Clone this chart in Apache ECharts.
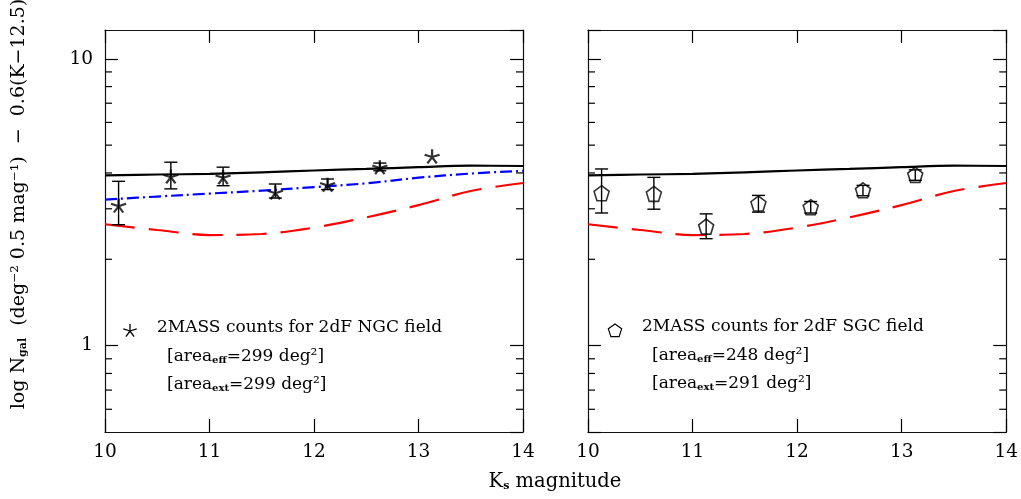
<!DOCTYPE html>
<html>
<head>
<meta charset="utf-8">
<script src="https://cdn.jsdelivr.net/npm/echarts@6/dist/echarts.min.js"></script>
<style>
html,body{margin:0;padding:0;background:#fff;}
#chart{width:1021px;height:499px;}
</style>
</head>
<body>
<div id="chart"></div>
<script>
// ---- axis limits / ticks ----
const K_MIN = 10, K_MAX = 14;
const Y_MIN = 0.5, Y_MAX = 12.6;
const xTickLabels = ['10', '11', '12', '13', '14'];
const yMajorTicks = [1, 10];
const yMinorTicks = [0.6, 0.7, 0.8, 0.9, 2, 3, 4, 5, 6, 7, 8, 9];

// ---- model curves (same in both panels) ----
const modelK     = [10, 10.5, 11, 11.5, 12, 12.5, 13, 13.5, 14];
const totalModel = [3.92, 3.95, 3.97, 4.02, 4.08, 4.13, 4.19, 4.24, 4.23];
const blueModel  = [3.23, 3.31, 3.39, 3.47, 3.57, 3.68, 3.85, 3.98, 4.07];
const redModel   = [2.65, 2.53, 2.43, 2.45, 2.58, 2.80, 3.09, 3.46, 3.69];

// ---- 2MASS counts ----
const countK = [10.13, 10.63, 11.13, 11.63, 12.13, 12.63, 13.13];
const ngcVal = [3.08, 3.89, 3.87, 3.42, 3.64, 4.19, 4.57];
const ngcLo  = [2.64, 3.52, 3.61, 3.27, 3.50, 4.07, null];
const ngcHi  = [3.74, 4.36, 4.19, 3.66, 3.81, 4.33, null];
const sgcVal = [3.40, 3.38, 2.60, 3.13, 3.04, 3.48, 3.94];
const sgcLo  = [2.90, 2.99, 2.36, 2.92, 2.90, 3.33, 3.77];
const sgcHi  = [4.13, 3.86, 2.88, 3.34, 3.18, 3.62, 4.10];

// ---- texts ----
const legendNGC = ['2MASS counts for 2dF NGC field', '299', '299'];
const legendSGC = ['2MASS counts for 2dF SGC field', '248', '291'];

const FONT = 'DejaVu Serif';
const STAR = 'path://M10,10L10,0M10,10L0.5,6.9M10,10L19.5,6.9M10,10L4.1,18.1M10,10L15.9,18.1';
const PENT = 'path://M10,0L19.51,6.91L15.88,18.09L4.12,18.09L0.49,6.91Z';

const chart = echarts.init(document.getElementById('chart'), null, {renderer: 'canvas'});

function xAxisDef(grid, pos, labels) {
  return {
    gridIndex: grid, type: 'value', min: K_MIN, max: K_MAX, interval: 1, position: pos,
    axisLine: {show: true, onZero: false, lineStyle: {color: '#111', width: 1.2}},
    axisTick: {show: true, inside: true, length: 13, lineStyle: {color: '#000', width: 1.2}},
    axisLabel: {show: labels, color: '#000', fontFamily: FONT, fontSize: 18.5, margin: 11,
      formatter: v => xTickLabels[Math.round(v - K_MIN)] || ''},
    splitLine: {show: false}
  };
}
function yAxisDef(grid, pos, labels) {
  return {
    gridIndex: grid, type: 'log', logBase: 10, min: Y_MIN, max: Y_MAX, position: pos,
    axisLine: {show: true, onZero: false, lineStyle: {color: '#111', width: 1.2}},
    axisTick: {show: true, inside: true, length: 13, lineStyle: {color: '#000', width: 1.2}},
    axisLabel: {show: labels, color: '#000', fontFamily: FONT, fontSize: 18.5, margin: 12,
      showMinLabel: false, showMaxLabel: false,
      formatter: v => {
        for (const t of yMajorTicks) if (Math.abs(v - t) < 1e-6 * t) return String(t);
        return '';
      }},
    splitLine: {show: false}
  };
}

function minorTickSeries(xi, yi) {
  return {
    type: 'custom', xAxisIndex: xi, yAxisIndex: yi, silent: true, clip: false, z: 5,
    data: yMinorTicks.map(v => [K_MIN, v]),
    renderItem: (params, api) => {
      const l = api.coord([K_MIN, api.value(1)]);
      const r = api.coord([K_MAX, api.value(1)]);
      const st = {stroke: '#000', lineWidth: 1.2};
      return {type: 'group', children: [
        {type: 'line', shape: {x1: l[0], y1: l[1], x2: l[0] + 7, y2: l[1]}, style: st},
        {type: 'line', shape: {x1: r[0], y1: r[1], x2: r[0] - 7, y2: r[1]}, style: st}
      ]};
    }
  };
}
function errSeries(xi, yi, lo, hi) {
  return {
    type: 'custom', xAxisIndex: xi, yAxisIndex: yi, silent: true, z: 4,
    data: countK.map((k, i) => [k, lo[i], hi[i]]).filter(d => d[1] != null),
    encode: {x: 0, y: [1, 2]},
    renderItem: (params, api) => {
      const a = api.coord([api.value(0), api.value(1)]);
      const b = api.coord([api.value(0), api.value(2)]);
      const w = 6.5, st = {stroke: '#000', lineWidth: 1.4};
      return {type: 'group', children: [
        {type: 'line', shape: {x1: a[0], y1: a[1], x2: b[0], y2: b[1]}, style: st},
        {type: 'line', shape: {x1: a[0] - w, y1: a[1], x2: a[0] + w, y2: a[1]}, style: st},
        {type: 'line', shape: {x1: b[0] - w, y1: b[1], x2: b[0] + w, y2: b[1]}, style: st}
      ]};
    }
  };
}
function lineSeries(xi, yi, vals, color, type, z) {
  return {
    type: 'line', xAxisIndex: xi, yAxisIndex: yi, showSymbol: false, smooth: 0.35, silent: true, z: z,
    data: modelK.map((k, i) => [k, vals[i]]),
    lineStyle: {color: color, width: 2.2, type: type}
  };
}

function legendGraphics(ix, iy, shape, lines) {
  const tx = ix + 27, ty = iy - 3;
  const els = [];
  if (shape === 'star') {
    const arms = [[0, -7], [-6.7, -2.2], [6.7, -2.2], [-4.1, 5.7], [4.1, 5.7]];
    els.push({type: 'group', x: ix, y: iy, children: arms.map(a => ({
      type: 'line', shape: {x1: 0, y1: 0, x2: a[0], y2: a[1]}, style: {stroke: '#000', lineWidth: 1.3}
    }))});
  } else {
    const pts = [];
    for (let k = 0; k < 5; k++) {
      const ang = -Math.PI / 2 + k * 2 * Math.PI / 5;
      pts.push([ix + 7 * Math.cos(ang), iy + 1 + 7 * Math.sin(ang)]);
    }
    els.push({type: 'polygon', shape: {points: pts}, style: {fill: 'none', stroke: '#000', lineWidth: 1.2}});
  }
  const rich = {
    n: {fontFamily: FONT, fontSize: 17, fill: '#000'},
    s: {fontFamily: FONT, fontSize: 10, fontWeight: 'bold', fill: '#000', verticalAlign: 'bottom', padding: [7, 0, 0, 0]}
  };
  els.push({type: 'text', x: tx, y: ty, style: {text: lines[0], fontFamily: FONT, fontSize: 17, fill: '#000', verticalAlign: 'middle'}});
  els.push({type: 'text', x: tx + 10, y: ty + 28.5, style: {
    text: '{n|[area}{s|eff}{n|=' + lines[1] + ' deg²]}', rich: rich, verticalAlign: 'middle', fontSize: 17, fontFamily: FONT}});
  els.push({type: 'text', x: tx + 10, y: ty + 57, style: {
    text: '{n|[area}{s|ext}{n|=' + lines[2] + ' deg²]}', rich: rich, verticalAlign: 'middle', fontSize: 17, fontFamily: FONT}});
  return els;
}

const option = {
  animation: false,
  backgroundColor: '#fff',
  grid: [
    {left: 105, top: 30, width: 418, height: 402},
    {left: 588, top: 30, width: 419, height: 402}
  ],
  xAxis: [xAxisDef(0, 'bottom', true), xAxisDef(0, 'top', false), xAxisDef(1, 'bottom', true), xAxisDef(1, 'top', false)],
  yAxis: [yAxisDef(0, 'left', true), yAxisDef(0, 'right', false), yAxisDef(1, 'left', false), yAxisDef(1, 'right', false)],
  series: [
    minorTickSeries(0, 0),
    minorTickSeries(2, 2),
    lineSeries(0, 0, totalModel, '#000', 'solid', 3),
    lineSeries(0, 0, blueModel, '#0000ff', [12, 4, 2, 4], 3),
    lineSeries(0, 0, redModel, '#ff0000', [30, 14], 3),
    lineSeries(2, 2, totalModel, '#000', 'solid', 3),
    lineSeries(2, 2, redModel, '#ff0000', [30, 14], 3),
    errSeries(0, 0, ngcLo, ngcHi),
    errSeries(2, 2, sgcLo, sgcHi),
    {type: 'scatter', xAxisIndex: 0, yAxisIndex: 0, symbol: STAR, symbolSize: [15, 14], silent: true, z: 6,
      itemStyle: {color: 'transparent', borderColor: '#000', borderWidth: 2.2},
      data: countK.map((k, i) => [k, ngcVal[i]])},
    {type: 'scatter', xAxisIndex: 2, yAxisIndex: 2, symbol: PENT, symbolSize: [15, 15], silent: true, z: 6,
      itemStyle: {color: 'transparent', borderColor: '#000', borderWidth: 1.6},
      data: countK.map((k, i) => [k, sgcVal[i]])}
  ],
  graphic: [
    ...legendGraphics(130, 331, 'star', legendNGC),
    ...legendGraphics(615, 330, 'pent', legendSGC),
    {type: 'text', x: 555, y: 482, style: {
      text: '{n|K}{s|s}{n| magnitude}', align: 'center', verticalAlign: 'middle', fontFamily: FONT, fontSize: 19.5,
      rich: {n: {fontFamily: FONT, fontSize: 19.5, fill: '#000'},
             s: {fontFamily: FONT, fontSize: 11, fontWeight: 'bold', fill: '#000', verticalAlign: 'bottom', padding: [8, 0, 0, 0]}}}},
    {type: 'text', x: 19, y: 204, rotation: Math.PI / 2, style: {
      text: '{n|log N}{s|gal}{n|  (deg⁻² 0.5 mag⁻¹)  −  0.6(K−12.5)}', align: 'center', verticalAlign: 'middle',
      fontFamily: FONT, fontSize: 19,
      rich: {n: {fontFamily: FONT, fontSize: 19, fill: '#000'},
             s: {fontFamily: FONT, fontSize: 11, fontWeight: 'bold', fill: '#000', verticalAlign: 'bottom', padding: [8, 0, 0, 0]}}}}
  ]
};
chart.setOption(option);
</script>
</body>
</html>
